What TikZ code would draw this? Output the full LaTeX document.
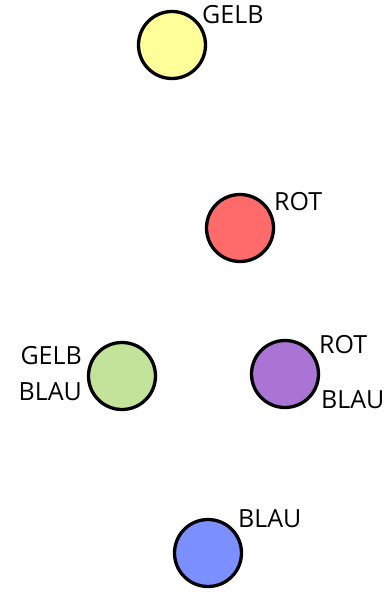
\documentclass[tikz,border=0pt]{standalone}
\usepackage{fontspec}
\setmainfont{Open Sans}
\usepackage{xcolor}
\usepackage{tikz}
\usetikzlibrary{positioning}

\definecolor{gelb}{HTML}{FFFF99}
\definecolor{rot}{HTML}{FF6B6B}
\definecolor{gruen}{HTML}{C3E29A}
\definecolor{lila}{HTML}{A974D4}
\definecolor{blau}{HTML}{7B8FFF}

\tikzset{
  ball/.style={circle,draw=black,line width=3.3pt,minimum size=67pt,inner sep=0pt},
  farbe/.style={font=\fontsize{25}{30}\selectfont,inner sep=0pt,anchor=west}
}

\begin{document}
\begin{tikzpicture}[x=1pt,y=-1pt]
\useasboundingbox (0,0) rectangle (386,594);
\node[ball,fill=gelb]  (Y) at (172,45)  {};
\node[ball,fill=rot]   (R) at (240,228) {};
\node[ball,fill=gruen] (G) at (122,376) {};
\node[ball,fill=lila]  (P) at (285,374) {};
\node[ball,fill=blau]  (B) at (208,553) {};
% Beschriftungen
\node[farbe] (Yl)  at (202,15)  {GELB};
\node[farbe] (Rl)  at (274,202) {ROT};
\node[farbe,anchor=east] (Gl1) at (82,356) {GELB};
\node[farbe,anchor=east] (Gl2) at (82,392) {BLAU};
\node[farbe] (Pl1) at (319,345) {ROT};
\node[farbe] (Pl2) at (321,400) {BLAU};
\node[farbe] (Bl)  at (238,519) {BLAU};
\end{tikzpicture}
\end{document}
